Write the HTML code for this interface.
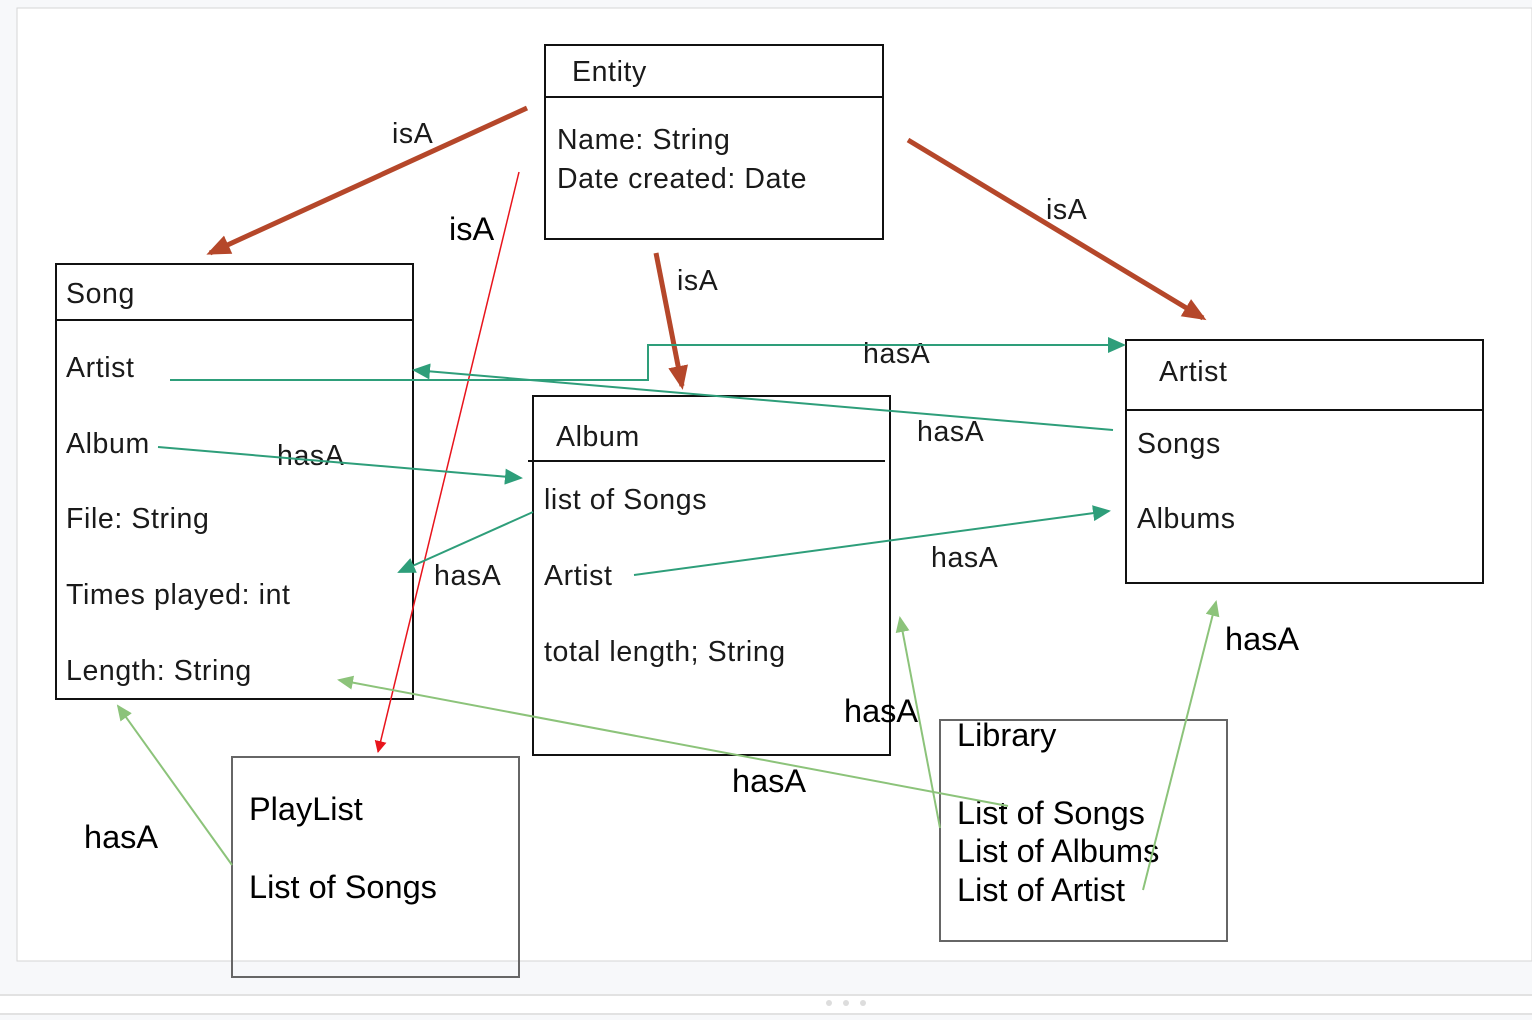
<!DOCTYPE html>
<html><head><meta charset="utf-8"><style>
html,body{margin:0;padding:0;background:#f7f8fa;}
svg{display:block}
.c{font-family:"Liberation Sans",sans-serif;font-size:28.5px;letter-spacing:0.6px;fill:#1a1a1a}
.a{font-family:"Liberation Sans",sans-serif;font-size:32.5px;fill:#000}
</style></head><body>
<svg width="1532" height="1020" xmlns="http://www.w3.org/2000/svg">
<defs>
<marker id="mbb" markerWidth="24" markerHeight="20" refX="20" refY="10" orient="auto" markerUnits="userSpaceOnUse"><path d="M0,0 L24,10 L0,20 z" fill="#b5472a"/></marker>
<marker id="mt" markerWidth="18" markerHeight="16" refX="16" refY="8" orient="auto" markerUnits="userSpaceOnUse"><path d="M0,0 L18,8 L0,16 z" fill="#2e9e7a"/></marker>
<marker id="mg" markerWidth="16" markerHeight="14" refX="14" refY="7" orient="auto" markerUnits="userSpaceOnUse"><path d="M0,0 L16,7 L0,14 z" fill="#8cc37a"/></marker>
<marker id="mr" markerWidth="12" markerHeight="12" refX="11" refY="6" orient="auto" markerUnits="userSpaceOnUse"><path d="M0,0 L12,6 L0,12 z" fill="#e8141c"/></marker>
</defs>
<rect x="0" y="0" width="1532" height="1020" fill="#f7f8fa"/>
<rect x="17" y="8" width="1515" height="953" fill="#fff" stroke="#d6d6d6"/>
<rect x="0" y="995" width="1532" height="18" fill="#fff"/>
<line x1="0" y1="995" x2="1532" y2="995" stroke="#e2e2e2" stroke-width="2"/>
<line x1="0" y1="1014" x2="1532" y2="1014" stroke="#e2e2e2" stroke-width="2"/>
<circle cx="829" cy="1003" r="3" fill="#ddd"/><circle cx="846" cy="1003" r="3" fill="#ddd"/><circle cx="863" cy="1003" r="3" fill="#ddd"/>

<g fill="none" stroke="#111" stroke-width="2">
<rect x="545" y="45" width="338" height="194"/><line x1="545" y1="97" x2="883" y2="97"/>
<rect x="56" y="264" width="357" height="435"/><line x1="56" y1="320" x2="413" y2="320"/>
<rect x="533" y="396" width="357" height="359"/><line x1="528" y1="461" x2="885" y2="461"/>
<rect x="1126" y="340" width="357" height="243"/><line x1="1126" y1="410" x2="1483" y2="410"/>
</g>
<g fill="none" stroke="#666" stroke-width="2">
<rect x="232" y="757" width="287" height="220"/>
<rect x="940" y="720" width="287" height="221"/>
</g>

<text class="c" x="572" y="81">Entity</text>
<text class="c" x="557" y="149">Name: String</text>
<text class="c" x="557" y="188">Date created: Date</text>
<text class="c" x="66" y="303">Song</text>
<text class="c" x="66" y="377">Artist</text>
<text class="c" x="66" y="453">Album</text>
<text class="c" x="66" y="528">File: String</text>
<text class="c" x="66" y="604">Times played: int</text>
<text class="c" x="66" y="680">Length: String</text>
<text class="c" x="556" y="446">Album</text>
<text class="c" x="544" y="509">list of Songs</text>
<text class="c" x="544" y="585">Artist</text>
<text class="c" x="544" y="661">total length; String</text>
<text class="c" x="1159" y="381">Artist</text>
<text class="c" x="1137" y="453">Songs</text>
<text class="c" x="1137" y="528">Albums</text>
<text class="a" x="249" y="820">PlayList</text>
<text class="a" x="249" y="898">List of Songs</text>
<text class="a" x="957" y="746">Library</text>
<text class="a" x="957" y="824">List of Songs</text>
<text class="a" x="957" y="862">List of Albums</text>
<text class="a" x="957" y="901">List of Artist</text>

<text class="c" x="392" y="143">isA</text>
<text class="a" x="449" y="240">isA</text>
<text class="c" x="677" y="290">isA</text>
<text class="c" x="1046" y="219">isA</text>
<text class="c" x="863" y="363">hasA</text>
<text class="c" x="917" y="441">hasA</text>
<text class="c" x="277" y="465">hasA</text>
<text class="c" x="434" y="585">hasA</text>
<text class="c" x="931" y="567">hasA</text>
<text class="a" x="1225" y="650">hasA</text>
<text class="a" x="844" y="722">hasA</text>
<text class="a" x="732" y="792">hasA</text>
<text class="a" x="84" y="848">hasA</text>

<g stroke="#b5472a" stroke-width="5" fill="none">
<line x1="527" y1="108" x2="210" y2="253" marker-end="url(#mbb)"/>
<line x1="908" y1="140" x2="1203" y2="318" marker-end="url(#mbb)"/>
<line x1="656" y1="253" x2="682" y2="386" marker-end="url(#mbb)"/>
</g>
<line x1="519" y1="172" x2="378" y2="752" stroke="#e8141c" stroke-width="1.5" marker-end="url(#mr)"/>
<g stroke="#2e9e7a" stroke-width="2" fill="none">
<polyline points="170,380 648,380 648,345 1124,345" marker-end="url(#mt)"/>
<line x1="1113" y1="430" x2="414" y2="370" marker-end="url(#mt)"/>
<line x1="158" y1="447" x2="521" y2="478" marker-end="url(#mt)"/>
<line x1="533" y1="512" x2="399" y2="572" marker-end="url(#mt)"/>
<line x1="634" y1="575" x2="1109" y2="511" marker-end="url(#mt)"/>
</g>
<g stroke="#8cc37a" stroke-width="2" fill="none">
<line x1="1008" y1="806" x2="339" y2="680" marker-end="url(#mg)"/>
<line x1="940" y1="828" x2="900" y2="618" marker-end="url(#mg)"/>
<line x1="1143" y1="890" x2="1216" y2="602" marker-end="url(#mg)"/>
<line x1="232" y1="865" x2="118" y2="706" marker-end="url(#mg)"/>
</g>
</svg>
</body></html>
